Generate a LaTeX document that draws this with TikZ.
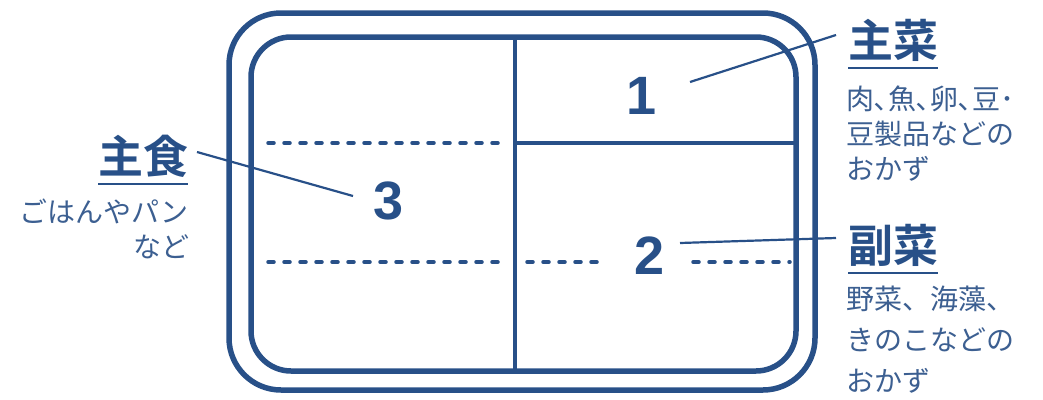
\documentclass[tikz,border=0pt]{standalone}
\usepackage{fontspec}
\setmainfont{Liberation Sans}
\newfontfamily\jp{Noto Sans CJK JP}
\newfontfamily\jpb{Noto Sans CJK JP Bold}
\begin{document}
\begin{tikzpicture}[x=1pt,y=-1pt,
  every node/.style={inner sep=0pt, outer sep=0pt},
  frame/.style={draw=navy, line width=5.5pt},
  divider/.style={draw=navy, line width=4.5pt},
  dotline/.style={draw=navy, line width=3.5pt, dash pattern=on 6pt off 10pt, line cap=round},
  leader/.style={draw=navy, line width=2.2pt},
  num/.style={text=navy, font=\fontsize{54}{54}\selectfont\bfseries},
  head/.style={text=navy, font=\fontsize{45}{45}\jpb},
  sub/.style={text=subblue, font=\fontsize{28}{35}\jp},
  uline/.style={draw=navy, line width=2.5pt}
]
\definecolor{navy}{RGB}{40,80,136}
\definecolor{subblue}{RGB}{60,95,145}
\useasboundingbox (0,0) rectangle (1043,399);
% frames
\draw[frame, rounded corners=52pt] (229,13) rectangle (815,390);
\draw[frame, rounded corners=40pt] (251,37) rectangle (796,371);
% dividers
\coordinate (vt) at (515,37);
\coordinate (vb) at (515,371);
\coordinate (hl) at (515,143);
\coordinate (hr) at (796,143);
\draw[divider] (vt) -- (vb);
\draw[divider] (hl) -- (hr);
% dotted
\coordinate (d1a) at (268,143); \coordinate (d1b) at (505,143);
\coordinate (d2a) at (268,262); \coordinate (d2b) at (505,262);
\coordinate (d3a) at (527,262); \coordinate (d3b) at (605,262);
\coordinate (d4a) at (693,262); \coordinate (d4b) at (790,262);
\draw[dotline] (d1a) -- (d1b);
\draw[dotline] (d2a) -- (d2b);
\draw[dotline] (d3a) -- (d3b);
\draw[dotline] (d4a) -- (d4b);
% numbers
\node[num] (n1) at (642,96) {1};
\node[num] (n3) at (389,201) {3};
\node[num] (n2) at (650,256) {2};
% headings
\node[head, anchor=west] (h1) at (848,40) {主菜};
\node[head, anchor=west] (h2) at (848,245) {副菜};
\node[head, anchor=east] (h3) at (188,156) {主食};
\draw[uline] ([yshift=-7pt]h1.south west) -- ([yshift=-7pt]h1.south east);
\draw[uline] ([yshift=-7pt]h2.south west) -- ([yshift=-7pt]h2.south east);
\draw[uline] ([yshift=-7pt]h3.south west) -- ([yshift=-7pt]h3.south east);
% sub texts
\node[sub, anchor=north west, align=left] (s1) at (846,86) {肉､魚､卵､豆･\\豆製品などの\\おかず};
\node[sub, anchor=north west, align=left, font=\fontsize{28}{41}\jp] (s2) at (846,286) {野菜、海藻、\\きのこなどの\\おかず};
\node[sub, anchor=north east, align=right] (s3) at (189,199) {ごはんやパン\\など};
% leaders
\coordinate (l1a) at (690,82); \coordinate (l1b) at (836,35);
\coordinate (l2a) at (680,243); \coordinate (l2b) at (836,238);
\coordinate (l3a) at (197,152); \coordinate (l3b) at (353,196);
\draw[leader] (l1a) -- (l1b);
\draw[leader] (l2a) -- (l2b);
\draw[leader] (l3a) -- (l3b);
\end{tikzpicture}
\end{document}
